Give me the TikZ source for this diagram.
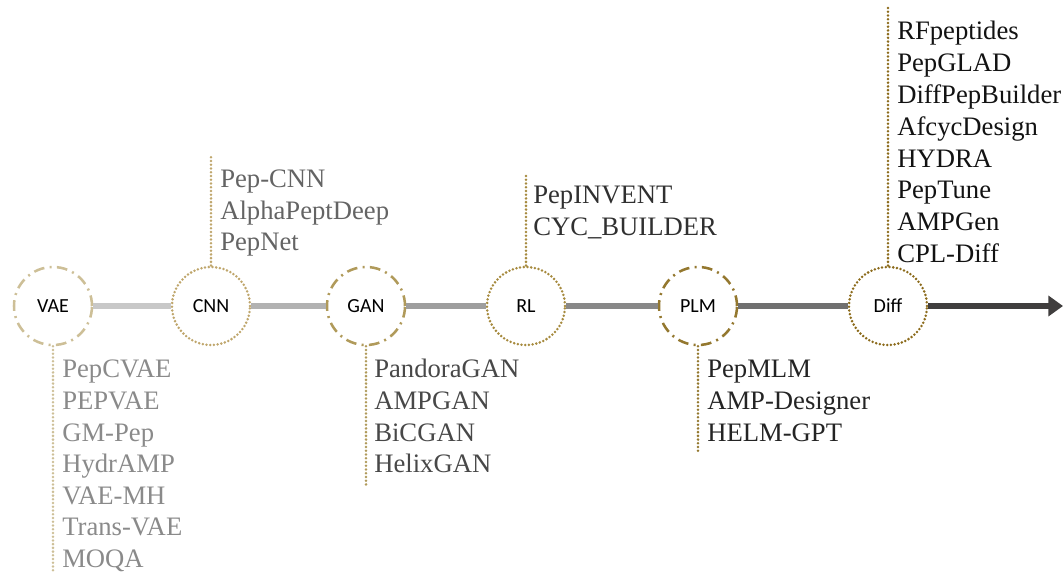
\documentclass[tikz,border=0pt]{standalone}
\usepackage{xcolor}
\usepackage{fontspec}
\setmainfont{Liberation Serif}
\newfontfamily\circfont{Carlito}
\usepackage{tikz}
\usetikzlibrary{arrows.meta}

\definecolor{goldA}{HTML}{CDBF97}
\definecolor{goldB}{HTML}{BFA66C}
\definecolor{goldC}{HTML}{B09A5A}
\definecolor{goldD}{HTML}{A68A3E}
\definecolor{goldE}{HTML}{94782F}
\definecolor{goldF}{HTML}{8C6B1C}

\tikzset{
  circ/.style={circle,minimum size=58.5pt,inner sep=0pt,font=\circfont\fontsize{15}{17}\selectfont},
  dashdot/.style={line width=1.9pt,dash pattern={on 8pt off 4pt on 1.5pt off 4pt}},
  dotty/.style={line width=2.1pt,line cap=round,dash pattern={on 0pt off 2.8pt}},
  link/.style={line width=4.5pt},
  model/.style={anchor=base west,inner sep=0pt,font=\fontsize{20}{24}\selectfont}
}

\begin{document}
\begin{tikzpicture}[x=0.75pt,y=0.75pt,yscale=-1,xscale=1]
\useasboundingbox (0,0) rectangle (1063,573);

% Circles
\node [circ,draw=goldA,dashdot] (vae) at (53,306) {VAE};
\node [circ,draw=goldB,dotty] (cnn) at (211,306) {CNN};
\node [circ,draw=goldC,dashdot] (gan) at (366,306) {GAN};
\node [circ,draw=goldD,dotty] (rl) at (526,306) {RL};
\node [circ,draw=goldE,dashdot] (plm) at (698,306) {PLM};
\node [circ,draw=goldF,dotty] (diff) at (888,306) {Diff};
\coordinate (end) at (1063,306);

% Timeline
\draw [link,color={rgb,255:red,200;green,200;blue,200}] (vae) -- (cnn);
\draw [link,color={rgb,255:red,178;green,178;blue,178}] (cnn) -- (gan);
\draw [link,color={rgb,255:red,158;green,158;blue,158}] (gan) -- (rl);
\draw [link,color={rgb,255:red,136;green,136;blue,136}] (rl) -- (plm);
\draw [link,color={rgb,255:red,112;green,112;blue,112}] (plm) -- (diff);
\draw [link,color={rgb,255:red,64;green,62;blue,62},-{Triangle[length=11pt,width=15pt]}] (diff) -- (end);

% Leader lines
\coordinate (vae-e) at (53,573);
\coordinate (cnn-e) at (211,157);
\coordinate (gan-e) at (366,487);
\coordinate (rl-e) at (526,175);
\coordinate (plm-e) at (698,452);
\coordinate (diff-e) at (888,7);
\draw [dotty,draw=goldA] (vae) -- (vae-e);
\draw [dotty,draw=goldB] (cnn) -- (cnn-e);
\draw [dotty,draw=goldC] (gan) -- (gan-e);
\draw [dotty,draw=goldD] (rl) -- (rl-e);
\draw [dotty,draw=goldE] (plm) -- (plm-e);
\draw [dotty,draw=goldF] (diff) -- (diff-e);

% Text Nodes
\foreach \t [count=\i] in {PepCVAE,PEPVAE,GM-Pep,HydrAMP,VAE-MH,Trans-VAE,MOQA}
  \node [model,text={rgb,255:red,138;green,138;blue,138}] (vae-\i) at (62,{378+31.5*(\i-1)}) {\t};
\foreach \t [count=\i] in {Pep-CNN,AlphaPeptDeep,PepNet}
  \node [model,text={rgb,255:red,100;green,100;blue,100}] (cnn-\i) at (220,{188+31.5*(\i-1)}) {\t};
\foreach \t [count=\i] in {PandoraGAN,AMPGAN,BiCGAN,HelixGAN}
  \node [model,text={rgb,255:red,72;green,72;blue,72}] (gan-\i) at (374,{378+31.5*(\i-1)}) {\t};
\foreach \t [count=\i] in {PepINVENT,CYC\_BUILDER}
  \node [model,text={rgb,255:red,48;green,48;blue,48}] (rl-\i) at (533,{204+31.5*(\i-1)}) {\t};
\foreach \t [count=\i] in {PepMLM,AMP-Designer,HELM-GPT}
  \node [model,text={rgb,255:red,36;green,36;blue,36}] (plm-\i) at (707,{378+31.5*(\i-1)}) {\t};
\foreach \t [count=\i] in {RFpeptides,PepGLAD,DiffPepBuilder,AfcycDesign,HYDRA,PepTune,AMPGen,CPL-Diff}
  \node [model,text={rgb,255:red,18;green,18;blue,18}] (diff-\i) at (897,{40+31.8*(\i-1)}) {\t};

\end{tikzpicture}
\end{document}
